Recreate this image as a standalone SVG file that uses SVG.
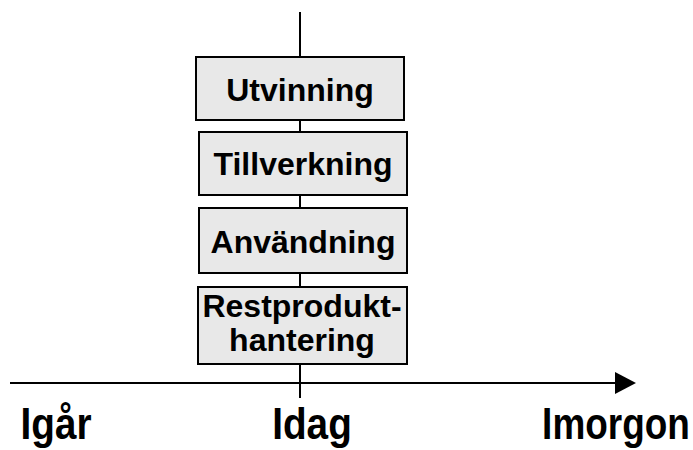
<svg xmlns="http://www.w3.org/2000/svg" width="693" height="450" viewBox="0 0 693 450">
<defs>
<style>
.box{fill:#e8e8e8;stroke:#000;stroke-width:2}
.lbl{font-family:"Liberation Sans",Arial,sans-serif;font-weight:bold;font-size:32px;fill:#000;text-anchor:middle}
.axis{font-family:"Liberation Sans",Arial,sans-serif;font-weight:bold;font-size:44px;fill:#000;text-anchor:middle}
.ln{stroke:#000;stroke-width:2;fill:none}
</style>
</defs>
<g id="connectors">
<line class="ln" x1="300" y1="12" x2="300" y2="398"/>
<line class="ln" x1="10" y1="383" x2="615" y2="383"/>
<path d="M615,372 L636,383 L615,394 Z" fill="#000"/>
</g>
<g id="utvinning">
<rect class="box" x="196" y="57" width="208" height="63"/>
<text class="lbl" x="300" y="101">Utvinning</text>
</g>
<g id="tillverkning">
<rect class="box" x="199" y="132" width="208" height="63"/>
<text class="lbl" x="303" y="175">Tillverkning</text>
</g>
<g id="anvandning">
<rect class="box" x="199" y="208" width="208" height="65"/>
<text class="lbl" x="303" y="253">Användning</text>
</g>
<g id="restprodukthantering">
<rect class="box" x="198" y="287" width="209" height="77"/>
<text class="lbl" x="302" y="317">Restprodukt-</text>
<text class="lbl" x="302" y="351">hantering</text>
</g>
<g id="labels">
<text class="axis" transform="translate(56,439) scale(0.88,1)">Igår</text>
<text class="axis" transform="translate(312,439) scale(0.88,1)">Idag</text>
<text class="axis" transform="translate(616,439) scale(0.84,1)">Imorgon</text>
</g>
</svg>
